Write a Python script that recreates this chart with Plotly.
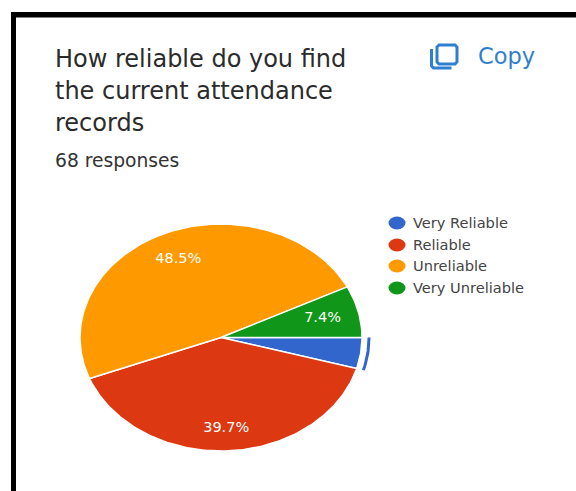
import numpy as np
import plotly.graph_objects as go

W, H = 576, 491

categories = ["Very Reliable", "Reliable", "Unreliable", "Very Unreliable"]
responses = [3, 27, 33, 5]
percent_labels = ["", "39.7%", "48.5%", "7.4%"]
colors = ["#3366cc", "#dc3912", "#ff9900", "#109618"]

title_lines = ["How reliable do you find", "the current attendance", "records"]
subtitle = "68 responses"
copy_label = "Copy"

# The pie is an ellipse: one axis unit is the radius along each direction.
CX, CY, RX, RY = 221, 337.5, 141, 113.5
LABEL_R = np.array([0.75, 0.8, 0.75, 0.74])
FONT = "DejaVu Sans"
ICON = "#2f7fd1"


def arc(start, end, r=1.0):
    t = np.linspace(start, end, max(int(abs(end - start) * 60), 8))
    return r * np.cos(t), -r * np.sin(t)


def px_x(v):
    return v / W


def px_y(v):
    return 1 - v / H


def path(points, close=False):
    cmds = [f"{'M' if i == 0 else 'L'} {px_x(x):.5f} {px_y(y):.5f}" for i, (x, y) in enumerate(points)]
    return " ".join(cmds) + (" Z" if close else "")


fig = go.Figure()

fractions = np.array(responses) / sum(responses)
edges = np.concatenate([[0], np.cumsum(fractions)]) * 2 * np.pi
for i, name in enumerate(categories):
    x, y = arc(edges[i], edges[i + 1])
    fig.add_trace(go.Scatter(
        x=np.concatenate([[0], x, [0]]), y=np.concatenate([[0], y, [0]]),
        mode="lines", fill="toself", fillcolor=colors[i],
        line=dict(color="white", width=1.5), name=name, hoverinfo="name",
    ))

# Outer arc marking the highlighted slice
hx, hy = arc(edges[0], edges[1], 1.05)
fig.add_trace(go.Scatter(x=hx, y=hy, mode="lines",
                         line=dict(color=colors[0], width=3), hoverinfo="skip"))

# Percentage labels sit near the middle of each slice
mids = (edges[:-1] + edges[1:]) / 2
fig.add_trace(go.Scatter(
    x=LABEL_R * np.cos(mids), y=-LABEL_R * np.sin(mids),
    mode="text", text=percent_labels,
    textfont=dict(family=FONT, size=14.5, color="white"),
    textposition="middle center", hoverinfo="skip",
))

shapes = []
annotations = []


def add_text(text, x, y, size, color):
    annotations.append(dict(
        text=text, x=px_x(x), y=px_y(y), xref="paper", yref="paper",
        xanchor="left", yanchor="middle", showarrow=False,
        font=dict(family=FONT, size=size, color=color),
    ))


def add_rect(x0, y0, x1, y1, color):
    shapes.append(dict(type="rect", xref="paper", yref="paper", layer="above",
                       x0=px_x(x0), x1=px_x(x1), y0=px_y(y0), y1=px_y(y1),
                       fillcolor=color, line=dict(width=0)))


# Heading block
for line, y in zip(title_lines, [59, 91, 123]):
    add_text(line, 53, y, 24, "#2b2b2b")
add_text(subtitle, 53, 160, 18.7, "#333333")
add_text(copy_label, 476, 56, 22.5, ICON)

# Legend
for name, color, y in zip(categories, colors, [223, 245, 266, 288]):
    shapes.append(dict(type="circle", xref="paper", yref="paper",
                       x0=px_x(388.5), x1=px_x(405.5), y0=px_y(y - 6.5), y1=px_y(y + 6.5),
                       fillcolor=color, line=dict(width=0)))
    add_text(name, 410.5, y - 0.8, 14.6, "#444444")

# Copy icon: a rounded square with an L-shaped sheet behind it
shapes.append(dict(
    type="path", xref="paper", yref="paper", fillcolor="rgba(0,0,0,0)",
    line=dict(color=ICON, width=3),
    path=path([(439, 45), (455, 45), (457, 47), (457, 62), (455, 64),
               (439, 64), (437, 62), (437, 47)], close=True),
))
shapes.append(dict(
    type="path", xref="paper", yref="paper", fillcolor="rgba(0,0,0,0)",
    line=dict(color=ICON, width=3),
    path=path([(431.5, 49), (431.5, 66), (433.5, 68), (451.5, 68)]),
))

# Black frame along the top and left
add_rect(11, 12, 576, 17.5, "#000000")
add_rect(11, 12, 16, 491, "#000000")

fig.update_layout(
    width=W, height=H, margin=dict(l=0, r=0, t=0, b=0),
    paper_bgcolor="white", plot_bgcolor="white", showlegend=False,
    shapes=shapes, annotations=annotations,
    xaxis=dict(range=[-CX / RX, (W - CX) / RX], visible=False, fixedrange=True),
    yaxis=dict(range=[-(H - CY) / RY, CY / RY], visible=False, fixedrange=True),
)
fig.write_html("out.html", config=dict(displayModeBar=False))
